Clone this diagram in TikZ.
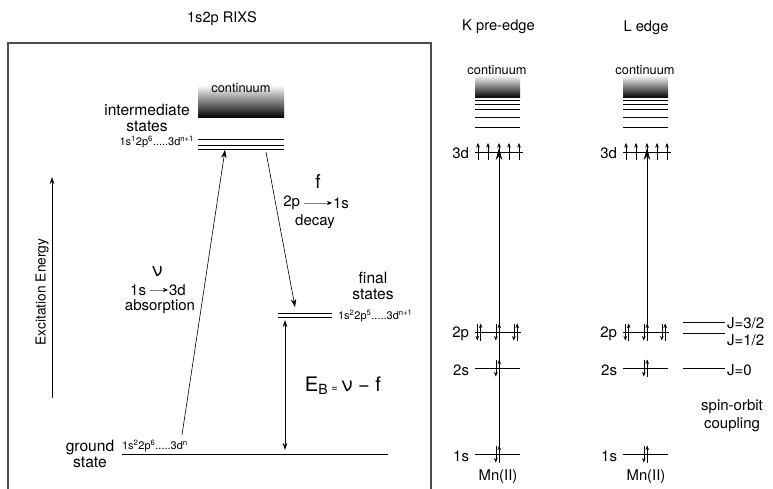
\documentclass[tikz,border=0pt]{standalone}
\usepackage{fontspec}
\setmainfont{TeX Gyre Heros}
\usetikzlibrary{arrows.meta}
\newcommand\fsz[1]{\fontsize{#1}{#1}\selectfont}
\newcommand\spinpair[2]{%
  \draw[spinarrow] ({#1+1.7},{#2+8.5}) -- ({#1+1.7},{#2-8.5});
  \draw[spinarrow] ({#1-1.7},{#2-8.5}) -- ({#1-1.7},{#2+8.5});}
\begin{document}
\begin{tikzpicture}[x=1pt,y=-1pt,
  every node/.style={inner sep=0pt,outer sep=0pt},
  lvl/.style={line width=0.8pt},
  trans/.style={line width=0.6pt,-{Stealth[length=8pt,width=5.5pt]}},
  bigtrans/.style={line width=0.6pt,-{Stealth[length=12pt,width=6.5pt]}},
  spinarrow/.style={line width=0.45pt,-{Stealth[length=4.5pt,width=3.5pt]}},
  smallarr/.style={gray,line width=0.4pt,-{Stealth[black,length=5pt,width=4pt]}},
  big/.style={font=\fsz{15.6},align=center},
  conf/.style={font=\fsz{11}},
  lbl/.style={font=\fsz{15}}]
\useasboundingbox (0,0) rectangle (773,489);

% ---------- left panel ----------
\node[font=\fsz{14.6}] (title) at (222,19) {1s2p RIXS};
\draw[gray!60!black,line width=1.1pt] (8,495) -- (8,43) -- (431,43) -- (431,495);

% excitation energy axis
\coordinate (ea) at (52,398);
\coordinate (eb) at (52,177);
\draw[line width=0.6pt,-{Stealth[length=7pt,width=4.5pt]}] (ea) -- (eb);
\node[font=\fsz{13.8},rotate=90] (exc) at (42,292) {Excitation Energy};

% intermediate states
\shade[top color=white,bottom color=black] (198,85) rectangle (284,118);
\node[font=\fsz{12.8}] (cont1) at (241,88) {continuum};
\draw[lvl] (198,139) -- (284,139);
\draw[lvl] (198,145) -- (284,145);
\draw[lvl] (198,149) -- (284,149);
\node[big] (inter) at (147,118) {intermediate\\[0pt]states};
\node[conf,anchor=east] (iconf) at (194,142) {1s\textsuperscript{1}2p\textsuperscript{6}.....3d\textsuperscript{n+1}};

% final states
\draw[lvl] (278,313) -- (332,313);
\draw[lvl] (278,317) -- (332,317);
\node[big] (final) at (373,286) {final\\[1pt]states};
\node[conf,anchor=west] (fconf) at (338,316) {1s\textsuperscript{2}2p\textsuperscript{5}.....3d\textsuperscript{n+1}};

% ground state
\draw[lvl] (122,454) -- (388,454);
\node[big] (ground) at (90,454) {ground\\[1pt]state};
\node[conf,anchor=west] (gconf) at (122,446) {1s\textsuperscript{2}2p\textsuperscript{6}.....3d\textsuperscript{n}};

% transitions
\coordinate (absA) at (182,435);
\coordinate (absB) at (225,150);
\draw[trans] (absA) -- (absB);
\coordinate (decA) at (266,152);
\coordinate (decB) at (295,307);
\draw[trans] (decA) -- (decB);
\coordinate (ebA) at (285,320);
\coordinate (ebB) at (285,450);
\draw[line width=0.6pt,{Stealth[length=7pt,width=4.5pt]}-{Stealth[length=7pt,width=4.5pt]}] (ebA) -- (ebB);

% labels of transitions
\node[font=\fsz{19}] (fsym) at (318,182) {f};
\node[font=\fsz{15},anchor=east] (d2p) at (300,203) {2p};
\node[font=\fsz{15},anchor=west] (d1s) at (333,203) {1s};
\draw[smallarr] ([xshift=4pt]d2p.east) -- ([xshift=-1pt]d1s.west);
\node[font=\fsz{15}] (decay) at (315,222) {decay};

\node[font=\fsz{19}] (nusym) at (157,272) {ν};
\node[font=\fsz{15},anchor=east] (a1s) at (146,290) {1s};
\node[font=\fsz{15},anchor=west] (a3d) at (169,290) {3d};
\draw[smallarr] ([xshift=4pt]a1s.east) -- ([xshift=-1pt]a3d.west);
\node[font=\fsz{15}] (absorp) at (160,307) {absorption};

\node[font=\fsz{20}] (eb) at (343,386) {E\textsubscript{B}\,{\fsz{11}=}\,ν − f};

% ---------- right panel ----------
\node[font=\fsz{14.7}] (ktitle) at (498.5,27) {K pre-edge};
\node[font=\fsz{14.7}] (ltitle) at (646,28) {L edge};

\foreach \c/\nm in {0/k,148/l}{
  \begin{scope}[xshift=\c]
    \shade[top color=white,bottom color=black] (475,75) rectangle (520,98);
    \node[font=\fsz{12.8}] (cont\nm) at (497,70) {continuum};
    \foreach \yy in {100,104,109,117,127}{\draw[line width=0.7pt] (475,\yy) -- (520,\yy);}
    % 3d
    \draw[line width=0.6pt] (475,152) -- (523,152);
    \foreach \xx in {478,488,499,509,519}{\draw[spinarrow] (\xx,160) -- (\xx,143);}
    \node[lbl,anchor=east] (d3\nm) at (469,153) {3d};
    % 2p
    \draw[line width=0.6pt] (475,332) -- (521,332);
    \spinpair{479}{332}\spinpair{497.5}{332}\spinpair{515.5}{332}
    \node[lbl,anchor=east] (p2\nm) at (469,334) {2p};
    % 2s
    \draw[line width=0.6pt] (475,368) -- (520,368);
    \spinpair{497.5}{368}
    \node[lbl,anchor=east] (s2\nm) at (469,370) {2s};
    % 1s
    \draw[line width=0.6pt] (475,454) -- (520,454);
    \spinpair{497.5}{454}
    \node[lbl,anchor=east] (s1\nm) at (469,456) {1s};
    \node[font=\fsz{14.8}] (mn\nm) at (498,477) {Mn(II)};
  \end{scope}
}
\coordinate (kA) at (499,452);
\coordinate (kB) at (499,148);
\draw[bigtrans] (kA) -- (kB);
\coordinate (lA) at (647,332);
\coordinate (lB) at (647,148);
\draw[bigtrans] (lA) -- (lB);

% spin-orbit split levels
\draw[line width=0.6pt] (683,322) -- (725,322);
\draw[line width=0.6pt] (683,333) -- (725,333);
\draw[line width=0.6pt] (683,368) -- (725,368);
\node[font=\fsz{15},anchor=west] (j32) at (727,323) {J=3/2};
\node[font=\fsz{15},anchor=west] (j12) at (727,340) {J=1/2};
\node[font=\fsz{15},anchor=west] (j0) at (727,370) {J=0};
\node[font=\fsz{15},align=center] (soc) at (732,416) {spin-orbit\\[3pt]coupling};
\end{tikzpicture}
\end{document}
